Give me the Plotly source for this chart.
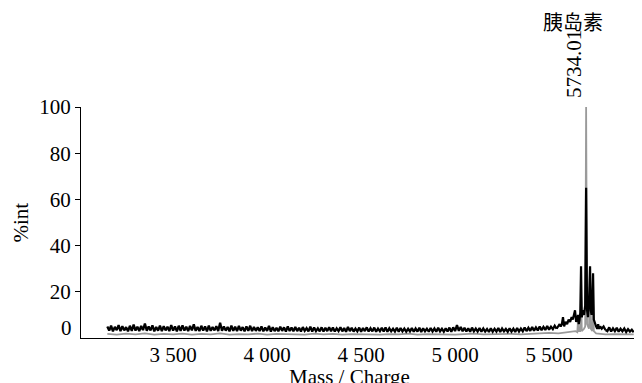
import plotly.graph_objects as go

# ---- data ----
# black spectrum: baseline region (m/z)
black_mass_base = [
    3150, 3160, 3170, 3180, 3190, 3200, 3210, 3220, 3230, 3240, 3250, 3260, 3270, 3280, 3290, 3300, 3310, 3320, 3330, 3340,
    3350, 3360, 3370, 3380, 3390, 3400, 3410, 3420, 3430, 3440, 3450, 3460, 3470, 3480, 3490, 3500, 3510, 3520, 3530, 3540,
    3550, 3560, 3570, 3580, 3590, 3600, 3610, 3620, 3630, 3640, 3650, 3660, 3670, 3680, 3690, 3700, 3710, 3720, 3730, 3740,
    3750, 3760, 3770, 3780, 3790, 3800, 3810, 3820, 3830, 3840, 3850, 3860, 3870, 3880, 3890, 3900, 3910, 3920, 3930, 3940,
    3950, 3960, 3970, 3980, 3990, 4000, 4010, 4020, 4030, 4040, 4050, 4060, 4070, 4080, 4090, 4100, 4110, 4120, 4130, 4140,
    4150, 4160, 4170, 4180, 4190, 4200, 4210, 4220, 4230, 4240, 4250, 4260, 4270, 4280, 4290, 4300, 4310, 4320, 4330, 4340,
    4350, 4360, 4370, 4380, 4390, 4400, 4410, 4420, 4430, 4440, 4450, 4460, 4470, 4480, 4490, 4500, 4510, 4520, 4530, 4540,
    4550, 4560, 4570, 4580, 4590, 4600, 4610, 4620, 4630, 4640, 4650, 4660, 4670, 4680, 4690, 4700, 4710, 4720, 4730, 4740,
    4750, 4760, 4770, 4780, 4790, 4800, 4810, 4820, 4830, 4840, 4850, 4860, 4870, 4880, 4890, 4900, 4910, 4920, 4930, 4940,
    4950, 4960, 4970, 4980, 4990, 5000, 5010, 5020, 5030, 5040, 5050, 5060, 5070, 5080, 5090, 5100, 5110, 5120, 5130, 5140,
    5150, 5160, 5170, 5180, 5190, 5200, 5210, 5220, 5230, 5240, 5250, 5260, 5270, 5280, 5290, 5300, 5310, 5320, 5330, 5340,
    5350, 5360, 5370, 5380, 5390, 5400, 5410, 5420, 5430, 5440, 5450, 5460, 5470, 5480, 5490, 5500, 5510, 5520, 5530, 5540]
# black spectrum: baseline region (%int)
black_int_base = [
    5.0, 3.2, 5.4, 2.9, 4.8, 3.4, 5.6, 3.0, 5.1, 3.3, 4.7, 2.9, 5.3, 3.1, 5.8, 3.2, 4.9, 3.0, 5.2, 3.4,
    6.3, 3.1, 5.0, 3.3, 5.5, 2.9, 4.8, 3.2, 5.4, 3.0, 5.1, 3.3, 4.9, 3.0, 5.6, 3.2, 5.0, 2.9, 5.3, 3.1,
    5.5, 3.2, 4.9, 3.0, 5.2, 3.3, 5.9, 3.1, 4.8, 3.0, 5.3, 3.2, 5.0, 2.9, 5.4, 3.1, 4.7, 3.3, 5.1, 3.0,
    6.6, 3.1, 5.0, 3.2, 4.8, 2.9, 5.4, 3.1, 4.9, 3.0, 5.2, 3.2, 4.7, 2.9, 5.0, 3.1, 5.3, 3.0, 4.8, 3.1,
    4.6, 3.0, 5.0, 2.9, 4.5, 3.1, 5.2, 2.8, 4.7, 3.0, 4.4, 2.9, 4.9, 3.1, 4.6, 2.8, 5.0, 3.0, 4.5, 2.9,
    4.8, 3.0, 4.4, 2.8, 4.7, 3.1, 4.3, 2.9, 4.9, 2.8, 4.5, 3.0, 4.2, 2.9, 4.6, 2.8, 4.4, 3.0, 4.7, 2.9,
    4.5, 2.8, 4.2, 3.0, 4.6, 2.9, 4.3, 2.7, 4.8, 3.0, 4.4, 2.8, 4.1, 2.9, 4.5, 2.7, 4.3, 3.0, 4.6, 2.8,
    4.2, 2.9, 4.5, 2.7, 4.1, 3.0, 4.4, 2.8, 4.6, 2.7, 4.2, 2.9, 4.0, 2.8, 4.4, 2.7, 4.3, 2.9, 4.1, 2.8,
    4.0, 2.9, 4.3, 2.7, 4.1, 2.8, 4.4, 2.6, 4.2, 2.9, 4.0, 2.7, 4.3, 2.8, 4.1, 2.7, 4.4, 2.9, 4.0, 2.7,
    4.2, 2.8, 4.5, 2.7, 4.6, 3.0, 5.6, 3.1, 4.8, 2.9, 4.4, 2.8, 4.2, 2.7, 4.5, 2.9, 4.1, 2.8, 4.3, 2.7,
    4.1, 2.8, 3.9, 2.6, 4.2, 2.7, 4.0, 2.8, 4.3, 2.6, 4.1, 2.9, 3.9, 2.7, 4.2, 2.8, 4.0, 2.6, 4.3, 2.8,
    4.1, 2.9, 4.5, 3.0, 4.4, 3.1, 4.7, 3.2, 4.6, 3.3, 5.0, 3.4, 4.8, 3.5, 5.2, 3.6, 4.9, 3.8, 5.3, 4.0]
# black spectrum: peak cluster
black_mass_peak = [5540, 5548, 5556, 5562, 5568, 5574, 5580, 5588, 5596, 5604,
                   5612, 5620, 5626, 5632, 5638, 5644, 5650, 5654, 5658, 5662,
                   5666, 5670, 5674, 5680, 5686, 5692, 5697, 5702, 5707, 5712,
                   5718, 5722, 5726, 5730, 5734, 5738, 5744, 5750, 5756, 5761,
                   5766, 5772, 5780, 5790, 5800]
black_int_peak = [4.0, 5.0, 6.0, 5.0, 6.0, 9.0, 5.0, 7.0, 6.0, 8.0,
                  7.0, 9.0, 8.0, 10.0, 12.0, 7.0, 8.0, 10.0, 6.0, 8.0,
                  11.0, 31.0, 9.0, 12.0, 10.0, 14.0, 65.0, 12.0, 9.0, 15.0,
                  31.0, 12.0, 10.0, 14.0, 28.0, 8.0, 6.0, 5.0, 4.0, 6.0,
                  4.0, 5.0, 4.0, 5.0, 3.5]
# black spectrum: tail
black_mass_tail = [5800, 5810, 5820, 5830, 5840, 5850, 5860, 5870, 5880, 5890, 5900,
                   5910, 5920, 5930, 5940, 5950]
black_int_tail = [3.5, 3.0, 4.6, 2.8, 4.2, 3.0, 4.4, 2.7, 4.0, 2.9, 4.1,
                  2.6, 3.8, 2.8, 3.6, 2.5]

# grey spectrum
grey_mass = [3150, 3200, 3250, 3300, 3350, 3400, 3450, 3500, 3550, 3600,
             3650, 3700, 3750, 3800, 3850, 3900, 3950, 4000, 4050, 4100,
             4150, 4200, 4250, 4300, 4350, 4400, 4450, 4500, 4550, 4600,
             4650, 4700, 4750, 4800, 4850, 4900, 4950, 5000, 5050, 5100,
             5150, 5200, 5250, 5300, 5350, 5400, 5450, 5500, 5550, 5600,
             5640, 5650, 5654, 5658, 5666, 5670, 5674, 5686, 5692, 5697,
             5702, 5712, 5718, 5722, 5730, 5734, 5738, 5750, 5800, 5850,
             5900, 5950]
grey_int = [1.8, 1.5, 1.9, 1.6, 2.0, 1.5, 1.8, 1.6, 1.9, 1.5,
            1.8, 1.6, 2.0, 1.5, 1.7, 1.6, 1.9, 1.5, 1.8, 1.6,
            1.7, 1.5, 1.9, 1.6, 1.8, 1.5, 1.7, 1.6, 1.8, 1.5,
            1.7, 1.6, 1.9, 1.5, 1.7, 1.6, 1.8, 1.5, 1.7, 1.9,
            1.6, 1.7, 1.5, 1.8, 1.6, 1.9, 2.0, 2.2, 2.0, 2.4,
            3.0, 2.5, 8.0, 3.0, 3.0, 20.0, 3.0, 4.0, 5.0, 100.0,
            6.0, 4.0, 24.0, 4.0, 3.0, 18.0, 3.0, 2.0, 1.6, 1.7,
            1.5, 1.6]

x_tickvals = [3500, 4000, 4500, 5000, 5500]
x_ticktext = ["3 500", "4 000", "4 500", "5 000", "5 500"]
y_tickvals = [20, 40, 60, 80, 100]
y_ticktext = ["20", "40", "60", "80", "100"]

peak_label = "5734.01"
peak_name = "胰岛素"
peak_mass = 5697
peak_int = 100

FONT = "Liberation Serif, Times New Roman, Noto Sans CJK SC, serif"
FS = 21

fig = go.Figure()
fig.add_trace(go.Scatter(x=grey_mass, y=grey_int, mode="lines",
                         line=dict(color="#9a9a9a", width=1.8),
                         showlegend=False, hoverinfo="skip"))
fig.add_trace(go.Scatter(x=black_mass_base, y=black_int_base,
                         mode="lines", line=dict(color="black", width=2.3),
                         showlegend=False, hoverinfo="skip"))
fig.add_trace(go.Scatter(x=black_mass_peak, y=black_int_peak,
                         mode="lines", line=dict(color="black", width=2.2),
                         showlegend=False, hoverinfo="skip"))
fig.add_trace(go.Scatter(x=black_mass_tail, y=black_int_tail,
                         mode="lines", line=dict(color="black", width=2.3),
                         showlegend=False, hoverinfo="skip"))

fig.add_annotation(x=peak_mass, y=peak_int, text=peak_label, textangle=-90,
                   showarrow=False, xanchor="center", yanchor="bottom",
                   xshift=-12, yshift=7, font=dict(family=FONT, size=FS, color="black"))
fig.add_annotation(x=peak_mass, y=peak_int, text=peak_name,
                   showarrow=False, xanchor="center", yanchor="bottom",
                   xshift=-13, yshift=69,
                   font=dict(family="Noto Sans CJK SC", size=20, color="black"))
# zero label
fig.add_annotation(xref="paper", x=0, y=0, text="0", showarrow=False,
                   xanchor="right", yanchor="middle", xshift=-7, yshift=10,
                   font=dict(family=FONT, size=FS, color="black"))
# axis titles
fig.add_annotation(xref="paper", yref="paper", x=0.5, y=0, text="Mass / Charge",
                   showarrow=False, xanchor="center", yanchor="top", yshift=-25,
                   xshift=-10, font=dict(family=FONT, size=FS, color="black"))
fig.add_annotation(xref="paper", yref="paper", x=0, y=0.5, text="%int",
                   showarrow=False, textangle=-90, xanchor="center", yanchor="middle",
                   xshift=-61, font=dict(family=FONT, size=FS, color="black"))

# the page body adds an 8 px margin, so the figure is sized to fit the window
fig.update_layout(
    width=634, height=375,
    margin=dict(l=73, r=4, t=99, b=45),
    paper_bgcolor="white", plot_bgcolor="white",
    font=dict(family=FONT, size=FS, color="black"),
    xaxis=dict(range=[3010, 5973], showline=True, linecolor="black", linewidth=1,
               showgrid=False, zeroline=False, ticks="",
               tickvals=x_tickvals, ticktext=x_ticktext,
               tickfont=dict(family=FONT, size=FS), ticklabelstandoff=-2,
               automargin=False),
    yaxis=dict(range=[0, 100], showline=True, linecolor="black", linewidth=1,
               showgrid=False, zeroline=False, ticks="outside", ticklen=5,
               tickcolor="black", tickvals=y_tickvals, ticktext=y_ticktext,
               tickfont=dict(family=FONT, size=FS),
               automargin=False),
)

fig.write_html("out.html")
